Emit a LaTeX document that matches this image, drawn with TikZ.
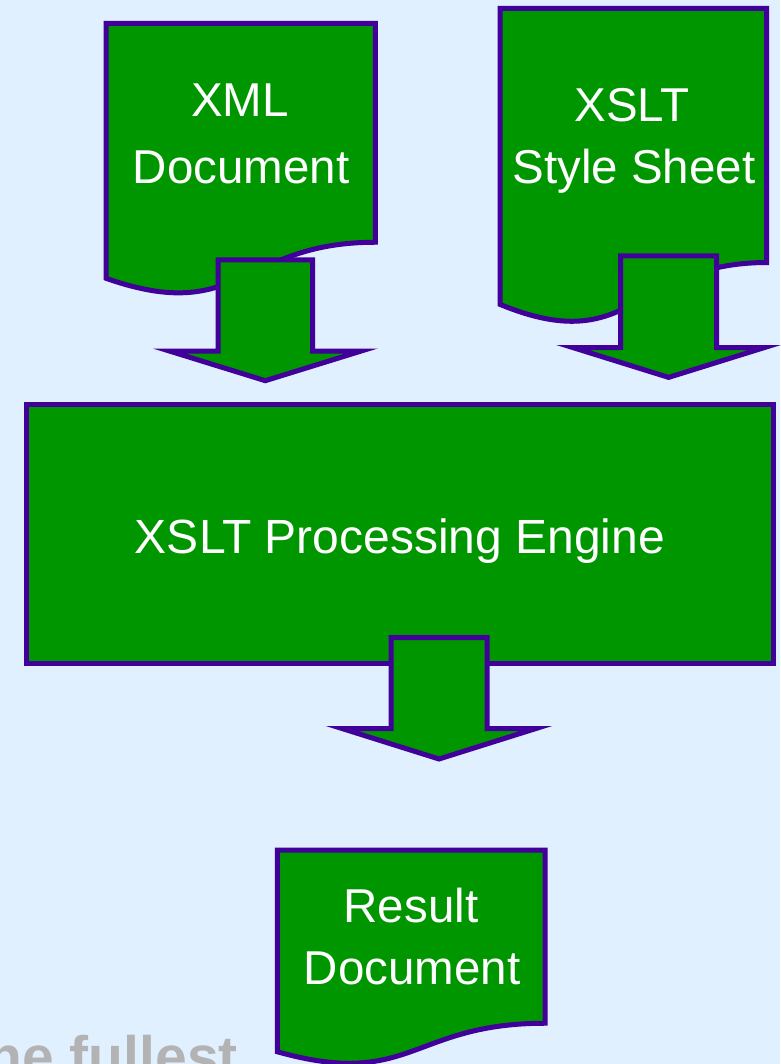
\documentclass[tikz,border=0pt]{standalone}
\usepackage{fontspec}
\setmainfont{Liberation Sans}

\definecolor{bgblue}{RGB}{224,240,255}
\definecolor{docgreen}{RGB}{0,150,0}
\definecolor{rimpurple}{RGB}{64,0,153}
\definecolor{notegrey}{RGB}{179,179,179}

\tikzset{
  shapebox/.style={fill=docgreen, draw=rimpurple, line width=5pt, line join=miter},
  doclabel/.style={text=white, font=\fontsize{47.5}{56}\selectfont, inner sep=0pt, anchor=base},
  enginelabel/.style={text=white, font=\fontsize{48}{58}\selectfont, inner sep=0pt, anchor=base},
  notetext/.style={text=notegrey, font=\bfseries\fontsize{57}{66}\selectfont, inner sep=0pt, anchor=base east},
}

% document symbol: x0, y0, width, height (y grows downward)
\newcommand\docsymbol[4]{%
  \draw[shapebox] (#1,#2) -- ({#1+#3},#2) -- ({#1+#3},{#2+0.802*#4})
    .. controls ({#1+#3/2},{#2+0.802*#4}) and ({#1+#3/2},{#2+1.1075*#4}) ..
    (#1,{#2+0.934*#4}) -- cycle;}

% block arrow pointing down: centre x, shaft top, head base, tip, half shaft, half head
\newcommand\downblock[6]{%
  \draw[shapebox] ({#1-#5},#2) -- ({#1+#5},#2) -- ({#1+#5},#3) -- ({#1+#6},#3)
    -- (#1,#4) -- ({#1-#6},#3) -- ({#1-#5},#3) -- cycle;}

\begin{document}
\begin{tikzpicture}[x=1pt,y=-1pt]
  \useasboundingbox (0,0) rectangle (780,1064);
  \fill[bgblue] (0,0) rectangle (780,1064);

  % source documents
  \docsymbol{106}{23.3}{269.3}{273}
  \docsymbol{500}{8.3}{266.7}{317}
  \node[doclabel] (xmlA) at (240,117) {XML};
  \node[doclabel] (xmlB) at (241,184) {Document};
  \node[doclabel] (xslA) at (632,122) {XSLT};
  \node[doclabel] (xslB) at (634,184) {Style Sheet};

  % arrows into the engine
  \downblock{265.3}{260}{351}{380.7}{47.3}{96}
  \downblock{668.6}{256}{347.5}{377.4}{48}{96}

  % processing engine
  \draw[shapebox] (26.4,404) rectangle (773.5,663);
  \node[enginelabel] (engine) at (400,553) {XSLT Processing Engine};

  % arrow out of the engine
  \downblock{439}{637.5}{728.5}{759}{48}{97}

  % result document
  \docsymbol{277.3}{850}{267.7}{216}
  \node[doclabel] (resA) at (411,922) {Result};
  \node[doclabel] (resB) at (412,984) {Document};

  % caption text running off the lower edge
  \begin{scope}
    \clip (0,0) rectangle (780,1064);
    \node[notetext] (note) at (238,1076) {he fullest};
  \end{scope}
\end{tikzpicture}
\end{document}
